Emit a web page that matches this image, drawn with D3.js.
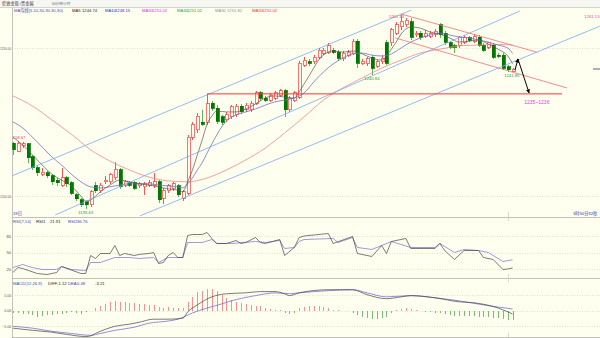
<!DOCTYPE html>
<html><head><meta charset="utf-8">
<script src="https://cdn.jsdelivr.net/npm/d3@7/dist/d3.min.js"></script>
<style>
html,body{margin:0;padding:0;background:#fffff0;overflow:hidden;}
svg{display:block;}
text{font-family:"Liberation Sans","Noto Sans CJK SC",sans-serif;}
</style></head><body>
<svg id="c" width="600" height="338"></svg>
<script>
// ---- hourly gold bars (price) ----
const open = [1217.9,1215.2,1216.9,1217.6,1213.2,1209.5,1207.4,1207.8,1206.8,1205.4,
1203.7,1206.1,1204.4,1200.4,1198.7,1198.0,1197.0,1203.4,1201.7,1204.8,
1204.8,1206.1,1208.8,1203.7,1204.4,1204.4,1203.4,1203.1,1203.7,1203.4,
1204.8,1199.3,1201.7,1202.4,1203.4,1199.3,1201.0,1219.9,1222.3,1225.0,
1225.0,1231.4,1229.7,1226.7,1225.7,1226.7,1227.4,1230.4,1229.1,1229.1,
1231.4,1234.8,1233.1,1232.4,1233.1,1234.1,1235.5,1229.1,1232.4,1233.4,
1244.2,1245.3,1245.3,1246.9,1248.3,1248.6,1249.3,1248.6,1246.3,1247.6,
1248.3,1252.3,1244.9,1244.6,1246.9,1243.9,1245.3,1251.7,1251.7,1255.0,
1257.1,1257.8,1258.8,1254.4,1255.0,1254.0,1254.0,1254.4,1257.8,1255.0,
1251.7,1250.7,1250.7,1252.0,1253.4,1252.3,1253.7,1251.0,1250.3,1251.0,
1247.6,1247.6,1243.6,1242.2];
const high = [1218.3,1218.67,1218.3,1217.9,1213.9,1210.5,1209.5,1208.5,1207.4,1206.1,
1209.5,1206.8,1205.1,1201.0,1199.3,1198.3,1202.0,1204.8,1204.4,1206.8,
1207.8,1211.5,1209.5,1205.4,1205.1,1205.1,1204.8,1204.8,1205.4,1207.8,
1205.4,1202.7,1204.1,1204.8,1204.1,1202.0,1220.6,1225.0,1228.0,1229.1,
1234.5,1232.1,1230.7,1227.4,1228.4,1230.7,1231.1,1231.1,1231.4,1232.1,
1235.5,1235.5,1233.8,1234.8,1235.5,1236.2,1236.2,1233.8,1235.5,1245.6,
1246.9,1246.3,1247.6,1250.0,1250.0,1251.7,1250.0,1249.3,1249.0,1249.3,
1253.0,1253.0,1246.3,1246.9,1247.6,1245.9,1247.6,1252.7,1256.7,1258.8,
1261.13,1260.1,1260.1,1255.7,1255.7,1256.1,1255.7,1256.4,1258.4,1255.7,
1252.3,1251.3,1254.0,1254.4,1254.0,1254.7,1254.4,1251.7,1252.0,1251.7,
1248.3,1248.3,1244.2,1243.2];
const low = [1213.9,1214.9,1216.2,1211.2,1208.8,1206.8,1206.8,1206.1,1203.7,1203.4,
1203.1,1203.1,1200.4,1198.3,1196.3,1195.63,1196.3,1201.0,1201.0,1204.1,
1204.1,1205.4,1202.4,1203.1,1203.1,1202.0,1202.7,1200.4,1203.1,1202.7,
1197.7,1197.3,1201.0,1201.7,1199.7,1198.3,1200.4,1218.9,1221.3,1223.7,
1224.0,1228.7,1224.3,1224.0,1225.0,1226.0,1226.7,1227.7,1228.4,1228.4,
1230.7,1232.1,1231.8,1231.8,1232.4,1233.4,1226.7,1228.4,1231.8,1232.8,
1243.6,1243.9,1244.6,1246.3,1247.6,1248.0,1248.0,1245.6,1245.6,1246.9,
1247.6,1243.2,1244.2,1243.9,1240.84,1243.2,1244.6,1244.2,1250.7,1254.4,
1256.1,1257.1,1252.7,1253.7,1252.7,1253.4,1253.4,1253.7,1253.4,1251.0,
1249.6,1248.3,1250.0,1251.3,1252.0,1251.7,1250.3,1248.6,1249.6,1246.3,
1246.6,1242.6,1241.85,1242.0];
const close = [1215.6,1217.9,1217.6,1212.9,1209.5,1207.8,1208.1,1206.8,1204.8,1204.4,
1206.1,1204.1,1201.0,1199.0,1197.0,1197.0,1201.4,1201.7,1203.7,1205.4,
1207.1,1208.8,1203.1,1204.8,1203.7,1202.7,1204.1,1204.1,1204.4,1204.8,
1198.7,1202.0,1203.4,1204.1,1200.4,1201.4,1219.9,1224.0,1227.0,1224.3,
1231.1,1229.7,1225.3,1225.0,1227.4,1230.1,1230.4,1228.4,1230.7,1231.4,
1234.8,1233.1,1232.4,1234.1,1234.8,1235.5,1229.1,1233.1,1234.8,1244.9,
1245.9,1244.9,1246.9,1249.3,1249.3,1250.7,1248.6,1246.6,1248.3,1248.6,
1252.3,1244.9,1245.6,1246.3,1243.2,1245.3,1246.6,1244.9,1256.1,1257.8,
1259.1,1259.4,1253.7,1255.0,1253.7,1255.0,1255.0,1255.7,1254.4,1252.0,
1250.3,1250.3,1253.4,1253.7,1252.7,1254.0,1251.0,1249.3,1251.7,1246.9,
1247.3,1243.2,1242.6,1242.9];

// moving averages, sampled at bar indices
const ma5At = [0,2,4,6,8,10,12,14,15,16,18,20,22,24,26,28,30,32,34,35,36,37,38,39,40,41,42,44,46,48,50,52,54,56,58,59,60,61,62,63,64,66,68,70,72,74,76,77,78,79,80,81,82,84,86,88,90,92,94,96,98,100,102,103];
const ma5 = [1219.9,1217.2,1213.9,1210.5,1207.4,1205.4,1203.4,1200.0,1198.3,1198.7,1201.4,1203.7,1205.4,1204.8,1204.1,1203.7,1203.1,1202.4,1202.0,1201.4,1204.8,1208.8,1213.9,1218.9,1224.3,1227.0,1228.7,1228.4,1228.4,1229.4,1231.1,1233.1,1233.8,1233.4,1233.1,1235.1,1237.8,1240.5,1243.2,1245.9,1247.6,1249.0,1248.6,1249.0,1248.0,1246.6,1245.9,1247.3,1249.6,1252.0,1254.7,1256.4,1257.1,1256.7,1255.4,1254.7,1253.4,1252.0,1252.3,1252.7,1251.3,1249.6,1247.3,1244.74];
const ma10At = [0,2,4,6,8,10,12,14,16,18,20,22,24,26,28,30,32,34,35,36,37,38,39,40,41,42,43,44,46,48,50,52,54,56,58,60,62,64,66,68,70,72,74,76,78,80,82,84,86,88,90,92,94,96,98,100,102,103];
const ma10 = [1225.0,1223.0,1219.9,1216.6,1213.2,1210.5,1207.4,1204.8,1203.1,1202.7,1203.1,1203.7,1204.1,1204.1,1204.1,1203.7,1203.4,1203.1,1202.7,1204.1,1206.1,1208.8,1211.2,1214.5,1217.6,1220.6,1223.3,1225.3,1227.4,1228.4,1229.4,1230.7,1231.8,1232.4,1233.1,1234.8,1238.5,1241.9,1244.6,1246.6,1248.0,1248.3,1247.6,1247.3,1248.0,1250.0,1252.0,1253.4,1254.4,1255.0,1254.4,1253.7,1253.4,1252.7,1252.0,1251.0,1250.0,1248.15];
const ma30At = [0,4,8,12,16,20,24,28,32,36,40,44,48,52,56,60,64,68,72,76,80,84,88,92,96,100,103];
const ma30 = [1233.8,1230.4,1225.7,1220.9,1215.6,1211.8,1208.8,1206.4,1205.1,1204.8,1206.1,1208.8,1212.2,1216.2,1221.3,1226.7,1232.4,1236.5,1239.9,1243.2,1245.9,1248.3,1249.6,1250.7,1251.0,1251.2,1251.02];

// RSI(7,14)
const rsi1At = [0,1,2,5,7,9,10,14,15,16,17,18,20,21,22,23,25,26,28,29,30,31,32,33,34,35,36,37,38,39,40,41,42,44,46,47,48,50,51,52,55,56,58,59,60,65,66,70,71,74,76,77,78,81,82,87,88,89,91,93,96,97,99,101,102,103];
const rsi1 = [13.6,22.7,20.9,11.8,10.0,13.6,24.5,11.8,11.8,44.5,39.1,48.2,48.2,62.7,44.5,48.2,44.5,46.4,48.2,50,30,31.8,44.5,50,40.9,40.9,80.9,82.7,82.7,82.7,86.4,75.5,66.4,66.4,71.8,66.4,68.2,77.3,68.2,66.4,73.6,44.5,59.1,77.3,80,84.5,66.4,79.1,48.2,42.7,62.7,48.2,70,75.5,57.3,57.3,66.4,53.6,37.3,53.6,53.6,40.9,37.3,19.1,20,21.91];
const rsi2At = [0,2,4,6,9,10,12,15,16,18,21,24,26,29,30,32,35,36,39,41,42,45,50,52,55,56,58,59,60,66,67,70,71,74,76,78,82,87,88,91,93,96,98,101,103];
const rsi2 = [22.7,28.2,22.7,19.1,19.1,24.5,19.1,17.3,31.8,31.8,40.9,40.9,39.1,40.9,31.8,40.9,40.9,68.2,68.2,73.6,66.4,66.4,70,68.2,71.8,57.3,59.1,70,73.6,75.5,68.2,77.3,59.1,55.5,62.7,70,59.1,59.1,66.4,50,55.5,53.6,50,33.6,36.76];

// MACD(12,26,9)
const macdBar = [-0.9,-0.8,-1.0,-1.2,-1.5,-2.0,-1.7,-1.4,-1.3,-1.1,
-1.0,-0.9,-0.6,-0.8,-1.0,-0.5,0,0.7,1.3,2.0,
2.6,3.1,2.9,2.6,2.5,2.3,2.1,2.1,1.8,1.8,
1.0,0.9,1.0,0.9,0.9,0.7,2.9,4.5,6.0,6.2,
6.9,7.0,6.4,4.9,4.0,3.4,2.9,2.4,2.1,1.8,
1.6,1.3,0.7,0.5,0.3,0.1,-0.9,-1.1,-0.7,0.7,
1.0,1.3,1.4,1.4,1.1,0.9,0.3,0.1,-0.1,-0.3,
-0.9,-1.5,-2.0,-2.4,-2.6,-2.6,-2.4,-2.0,-0.9,0.2,
0.6,0.7,0.5,0.2,-0.1,-0.4,-0.6,-0.7,-0.9,-1.15,
-1.5,-1.7,-1.7,-1.7,-1.8,-1.8,-2.0,-2.0,-2.25,-2.35,
-2.57,-2.8,-3.0,-3.21];
const diffAt = [0,4,8,11,15,16,17,19,21,24,26,29,32,35,36,38,41,44,48,51,54,56,57,59,65,70,73,77,80,82,87,92,95,100,103];
const diff = [-5.7,-6.4,-7.0,-7.7,-8.4,-8.2,-7.4,-6.1,-5.1,-4.4,-3.8,-2.8,-2.8,-2.5,-0.5,1.8,4.4,5.4,5.7,6.1,6.1,5.4,4.8,5.7,6.7,6.7,5.1,3.8,4.4,4.8,4.1,2.8,2.5,0.8,-1.12];
const deaAt = [0,4,8,12,16,18,21,25,28,32,34,37,40,43,45,50,54,57,59,65,70,73,77,82,87,92,97,103];
const dea = [-5.1,-5.7,-6.7,-7.4,-8.0,-7.4,-6.4,-5.4,-4.1,-3.4,-2.8,-0.8,0.8,2.1,3.1,4.8,5.7,5.4,5.7,6.4,6.7,5.7,4.4,4.8,4.1,3.1,1.8,0.48];

// axis ticks
const priceTicks = [1200, 1250];
const rsiTicks = [20, 50, 80];
const macdTicks = [-5, 0, 5];

// drawn trend lines: [barIndex, price] pairs
const blueChannel = [
  [[-0.2,1206.8],[82.1,1262.8]],
  [[8.7,1193.6],[104.5,1262.5]],
  [[26.2,1193.3],[121,1257.4]]
];
const redChannel = [
  [[80,1261.5],[108,1248.6]],
  [[78.8,1253.4],[114.2,1236.5]]
];
const support = [[40,1234.5],[113.2,1234.5]];
const arrowPath = [[103.5,1242.6],[104.1,1246.3],[106.4,1234.8]];
const targetText = "1235~1236";

// ---------------------------------------------------------------
const svg = d3.select('#c');
const W = 600, H = 338, L = 12;
const BG = '#fffff0';
const x = d3.scaleLinear().domain([0, 103]).range([13, 512.6]);
const yP = d3.scaleLinear().domain([1200, 1250]).range([196, 48]);
const yR = d3.scaleLinear().domain([20, 80]).range([269, 236]);
const yM = d3.scaleLinear().domain([-5, 5]).range([326, 295]);

svg.append('rect').attr('width', W).attr('height', H).attr('fill', BG);

// header strip
svg.append('rect').attr('width', W).attr('height', 7).attr('fill', '#f6f6f2');
svg.append('line').attr('x1', 0).attr('x2', W).attr('y1', 7.5).attr('y2', 7.5).attr('stroke', '#b8b8b0').attr('stroke-width', 0.6);
svg.append('text').attr('x', 2).attr('y', 3.8).attr('font-size', 4.2).attr('dominant-baseline', 'middle').attr('fill', '#333').text('伦敦金现 /贵金属');
svg.append('text').attr('x', 52).attr('y', 3.8).attr('font-size', 3.4).attr('dominant-baseline', 'middle').attr('fill', '#666').text('60分钟/小时');

// clip regions
const defs = svg.append('defs');
function clip(id, y0, y1) {
  defs.append('clipPath').attr('id', id).append('rect').attr('x', L + 0.5).attr('y', y0).attr('width', W - L).attr('height', y1 - y0);
  return 'url(#' + id + ')';
}
const clipMain = clip('cm', 8, 217);
const clipRsi = clip('cr', 218, 278);
const clipMacd = clip('cd', 279, 337);

// frame
const frame = svg.append('g').attr('stroke', '#a8a8a0').attr('stroke-width', 0.7).attr('shape-rendering', 'crispEdges');
frame.append('line').attr('x1', L + 0.5).attr('x2', L + 0.5).attr('y1', 8).attr('y2', H);
[217, 278, 337].forEach(v => frame.append('line').attr('x1', L).attr('x2', W).attr('y1', v + 0.5).attr('y2', v + 0.5));
// day separator ticks on panel borders
const dayX = Math.round(x(102)) + 0.5;
[[212, 217], [217, 221], [274, 278], [278, 282], [333, 337]].forEach(s =>
  frame.append('line').attr('x1', dayX).attr('x2', dayX).attr('y1', s[0]).attr('y2', s[1]).attr('stroke', '#c8c8c0'));

// grid + axes (labels kept inside the narrow left margin)
function grid(scale, ticks, fmt, size) {
  const g = svg.append('g');
  ticks.forEach(t => g.append('line').attr('x1', L).attr('x2', W).attr('y1', Math.round(scale(t)) + 0.5).attr('y2', Math.round(scale(t)) + 0.5)
    .attr('stroke', '#cfcfc0').attr('stroke-width', 0.6).attr('stroke-dasharray', '1,1.5'));
  const ax = svg.append('g').attr('transform', `translate(${L},0)`)
    .call(d3.axisLeft(scale).tickValues(ticks).tickFormat(fmt).tickSize(0).tickPadding(0.8));
  ax.select('.domain').remove();
  ax.selectAll('text').attr('font-size', size).attr('fill', '#555').attr('font-family', '"Liberation Sans",sans-serif');
}
grid(yP, priceTicks, d3.format('.2f'), 3.1);
grid(yR, rsiTicks, d3.format('d'), 4.2);
grid(yM, macdTicks, d3.format('.2f'), 3.6);

// ---- main panel ----
const main = svg.append('g').attr('clip-path', clipMain);
const bars = d3.range(open.length).map(i => ({i, o: open[i], h: high[i], l: low[i], c: close[i]}));
const UP = '#ff5050', DOWN = '#007800', DOWNW = '#5cb85c';
const cg = main.append('g').attr('shape-rendering', 'crispEdges');
cg.selectAll('line.w').data(bars).join('line')
  .attr('x1', d => Math.round(x(d.i)) + 0.5).attr('x2', d => Math.round(x(d.i)) + 0.5)
  .attr('y1', d => yP(d.h)).attr('y2', d => yP(d.l))
  .attr('stroke', d => d.c >= d.o ? UP : DOWNW).attr('stroke-width', 1);
cg.selectAll('rect.b').data(bars).join('rect')
  .attr('x', d => Math.round(x(d.i)) - 1)
  .attr('width', 3)
  .attr('y', d => yP(Math.max(d.o, d.c)))
  .attr('height', d => Math.max(1, Math.abs(yP(d.o) - yP(d.c))))
  .attr('fill', d => d.c >= d.o ? BG : DOWN)
  .attr('stroke', d => d.c >= d.o ? UP : DOWN).attr('stroke-width', 0.8);

function series(at, vals) { return at.map((k, j) => [k, vals[j]]); }
const lineP = d3.line().x(d => x(d[0])).y(d => yP(d[1])).curve(d3.curveMonotoneX);
main.append('path').attr('d', lineP(series(ma30At, ma30))).attr('fill', 'none').attr('stroke', '#f08888').attr('stroke-width', 0.8);
main.append('path').attr('d', lineP(series(ma10At, ma10))).attr('fill', 'none').attr('stroke', '#7070c8').attr('stroke-width', 0.8);
main.append('path').attr('d', lineP(series(ma5At, ma5))).attr('fill', 'none').attr('stroke', '#555', ).attr('stroke-width', 0.7);

// trend lines
const seg = d3.line().x(d => x(d[0])).y(d => yP(d[1]));
blueChannel.forEach(s => main.append('path').attr('d', seg(s)).attr('stroke', '#78aaf0').attr('stroke-width', 0.8).attr('fill', 'none'));
redChannel.forEach(s => main.append('path').attr('d', seg(s)).attr('stroke', '#f07070').attr('stroke-width', 0.8).attr('fill', 'none'));
main.append('path').attr('d', seg(support)).attr('stroke', '#ff3030').attr('stroke-width', 1).attr('fill', 'none');

// arrow
defs.append('marker').attr('id', 'ah').attr('viewBox', '0 0 10 10').attr('refX', 9).attr('refY', 5)
  .attr('markerWidth', 4).attr('markerHeight', 4).attr('orient', 'auto')
  .append('path').attr('d', 'M0,0L10,5L0,10z').attr('fill', '#000');
main.append('path').attr('d', seg(arrowPath.slice(0, 2))).attr('stroke', '#000').attr('stroke-width', 1).attr('marker-end', 'url(#ah)');
main.append('path').attr('d', seg(arrowPath.slice(1))).attr('stroke', '#000').attr('stroke-width', 1).attr('marker-end', 'url(#ah)');

// high / low value tags
function tag(i, v, dy, color, anchor, dx) {
  main.append('text').attr('x', x(i) + (dx || 0)).attr('y', yP(v) + dy).attr('font-size', 4.2)
    .attr('text-anchor', anchor || 'middle').attr('dominant-baseline', 'middle').attr('fill', color).text(v.toFixed(2));
}
tag(1, high[1], -3, '#e04848');
tag(15, low[15], 4, '#2a9a2a');
tag(80, high[80], 2, '#e04848', 'end', 3);
tag(74, low[74], 3.5, '#2a9a2a');
tag(102, low[102], 4, '#2a9a2a', 'middle', 4);
main.append('text').attr('x', x(108)).attr('y', yP(support[0][1]) + 9).attr('font-size', 5).attr('text-anchor', 'middle')
  .attr('dominant-baseline', 'middle').attr('fill', '#e040e0').text(targetText);

// right edge price tag and last price marker
svg.append('text').attr('x', 599.5).attr('y', yP(high[80]) + 1.5).attr('font-size', 4.2).attr('text-anchor', 'end').attr('dominant-baseline', 'middle').attr('fill', '#e05080').text(high[80].toFixed(2));
svg.append('rect').attr('x', 593).attr('y', yP(close[103]) - 1).attr('width', 7).attr('height', 2).attr('fill', '#b0b0b0');

// main legend
const mainLegend = [
  [14, 'MA均线(5,10,30,30,30,30)', '#4848b0'],
  [72, 'MA5', '#222'], [82, ma5[ma5.length - 1].toFixed(2), '#222'],
  [105, 'MA10', '#3030c0'], [115, ma10[ma10.length - 1].toFixed(2), '#3030c0'],
  [142, 'MA30', '#e030e0'], [152, '1251.02', '#e030e0'],
  [177, 'MA30', '#30a030'], [187, '1251.02', '#30a030'],
  [215, 'MA30', '#909090'], [227, '1251.82', '#909090'],
  [252, 'MA30', '#ff3030'], [262, ma30[ma30.length - 1].toFixed(2), '#ff3030']
];
function legend(items, y) {
  items.forEach(t => svg.append('text').attr('x', t[0]).attr('y', y).attr('font-size', 4.2)
    .attr('dominant-baseline', 'middle').attr('fill', t[2]).text(t[1]));
}
legend(mainLegend, 10.8);
legend([[13, '19日', '#3030a0'], [573, '3时50分32秒', '#3030a0']], 213.5);

// ---- RSI panel ----
const rsiG = svg.append('g').attr('clip-path', clipRsi);
const lineR = d3.line().x(d => x(d[0])).y(d => yR(d[1]));
rsiG.append('path').attr('d', lineR(series(rsi2At, rsi2))).attr('fill', 'none').attr('stroke', '#7070d0').attr('stroke-width', 0.7);
rsiG.append('path').attr('d', lineR(series(rsi1At, rsi1))).attr('fill', 'none').attr('stroke', '#444').attr('stroke-width', 0.7);
legend([[13, 'RSI(7,14)', '#4848b0'], [36, 'RSI1', '#222'], [50, rsi1[rsi1.length - 1].toFixed(2), '#222'],
        [68, 'RSI2', '#4040c0'], [77, rsi2[rsi2.length - 1].toFixed(2), '#4040c0']], 221.5);

// ---- MACD panel ----
const macdG = svg.append('g').attr('clip-path', clipMacd);
macdG.append('g').attr('shape-rendering', 'crispEdges').selectAll('line').data(macdBar.map((v, i) => [i, v])).join('line')
  .attr('x1', d => Math.round(x(d[0])) + 0.5).attr('x2', d => Math.round(x(d[0])) + 0.5)
  .attr('y1', yM(0)).attr('y2', d => yM(d[1]))
  .attr('stroke', d => d[1] >= 0 ? '#ff7070' : '#50b050').attr('stroke-width', 0.8);
const lineM = d3.line().x(d => x(d[0])).y(d => yM(d[1])).curve(d3.curveMonotoneX);
macdG.append('path').attr('d', lineM(series(deaAt, dea))).attr('fill', 'none').attr('stroke', '#6060d0').attr('stroke-width', 0.7);
macdG.append('path').attr('d', lineM(series(diffAt, diff))).attr('fill', 'none').attr('stroke', '#444').attr('stroke-width', 0.7);
legend([[13, 'MACD(12,26,9)', '#4848b0'], [48, 'DIFF', '#222'], [57, diff[diff.length - 1].toFixed(2), '#222'],
        [68, 'DEA', '#4040c0'], [77, dea[dea.length - 1].toFixed(2), '#4040c0'],
        [95, macdBar[macdBar.length - 1].toFixed(2), '#222']], 283.5);
</script>
</body></html>
